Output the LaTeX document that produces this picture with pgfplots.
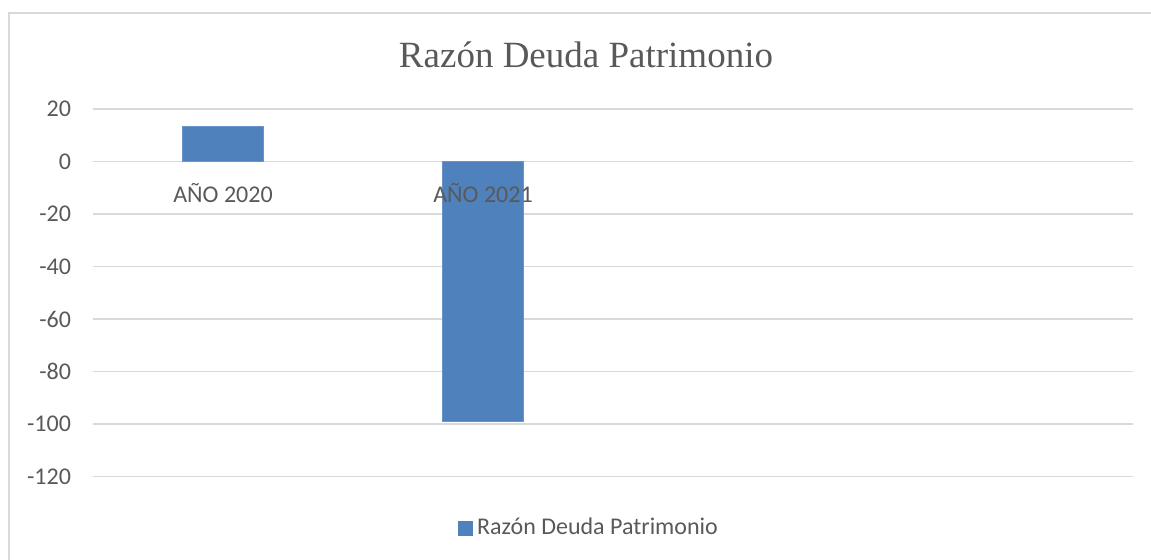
\documentclass[border=0pt]{standalone}
\usepackage{pgfplots}
\pgfplotsset{compat=1.18}
\usepackage{fontspec}
\setmainfont{Carlito}
\newfontfamily\titlefont{Liberation Serif}
\definecolor{barblue}{HTML}{4F81BD}
\definecolor{txt}{HTML}{595959}
\definecolor{gridc}{HTML}{D9D9D9}
\pgfplotsset{
  common/.style={
    at={(46.5pt,-238.25pt)}, anchor=south west,
    scale only axis, width=520pt, height=183.75pt,
    xmin=-0.5, xmax=3.5, ymin=-120, ymax=20,
    axis x line=middle, axis y line=left,
    axis line style={draw=none},
    major tick length=0pt,
    /pgf/number format/assume math mode=true,
    tick label style={text=txt, font=\fontsize{12}{14}\selectfont},
  }
}
\begin{document}
\begin{tikzpicture}
\useasboundingbox (0,0) rectangle (575.5pt,-279.5pt);
\draw[gridc, line width=0.75pt] (4.5pt,-290pt) -- (4.5pt,-6.5pt) -- (590pt,-6.5pt);
\node[txt, font=\titlefont\fontsize{18.5}{22}\selectfont] at (293pt,-27.5pt) {Razón Deuda Patrimonio};
\begin{axis}[
  common,
  ytick={-120,-100,...,20},
  xtick=\empty,
  ymajorgrids, grid style={gridc, line width=0.75pt},
  yticklabel style={anchor=east, xshift=-7.5pt},
  ybar, bar width=0.312,
  legend style={at={(axis description cs:0.478,-0.140)}, anchor=center, draw=none, fill=none, text=txt, font=\fontsize{12}{14}\selectfont},
  legend image code/.code={\fill[barblue] (0pt,-3.5pt) rectangle (7pt,3.5pt);},
]
\addplot[fill=barblue, draw=barblue!85!white, line width=0.4pt] coordinates {(0,13.5) (1,-99)};
\addlegendentry{Razón Deuda Patrimonio}
\end{axis}
\begin{axis}[
  common,
  ytick=\empty,
  xtick={0,1,2,3}, xticklabels={AÑO 2020,AÑO 2021,{},{}},
  xticklabel style={anchor=center, yshift=-15.75pt},
]
\end{axis}
\end{tikzpicture}
\end{document}
